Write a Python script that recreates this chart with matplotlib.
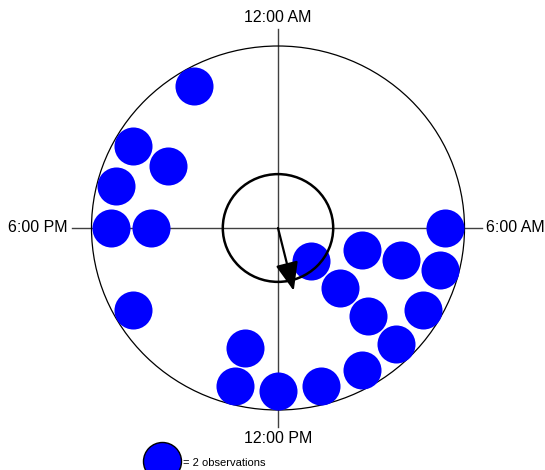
import numpy as np
import matplotlib
matplotlib.use('Agg')
import matplotlib.pyplot as plt
from matplotlib.patches import Circle

plt.rcParams['font.family'] = ['Liberation Sans', 'DejaVu Sans']

# hour of day (24h clock) and number of dots stacked at that hour (1 dot = 2 obs)
hours = [6, 7, 8, 9, 10, 11, 12, 13, 16, 18, 19, 20, 22]
dots = [1, 3, 1, 4, 1, 1, 1, 2, 1, 2, 1, 2, 1]
obs_per_dot = 2
inner_r = 0.296          # reference circle around the mean vector
clock_labels = ['12:00 AM', '6:00 AM', '12:00 PM', '6:00 PM']

fig = plt.figure(figsize=(5.45, 4.70), dpi=100)
ax = fig.add_axes([0, 0, 1, 1])
ax.set_xlim(-278/186.5, (545-278)/186.5)
ax.set_ylim(-(470-228)/182., 228/182.)
ax.axis('off')

dot_r = 0.102
step = 0.215

# axes cross
ax.plot([0, 0], [-1.093, 1.093], color='#404040', lw=1.0, zorder=1)
ax.plot([-1.105, 1.094], [0, 0], color='#404040', lw=1.0, zorder=1)

# outer circle
ax.add_patch(Circle((0, 0), 1.0, fill=False, ec='black', lw=0.9, zorder=2))

# stacked dots
xs, ys = [], []
for h, n in zip(hours, dots):
    th = np.deg2rad(h*15.0)
    for k in range(n):
        r = 1.0 - dot_r - k*step
        xs.append(r*np.sin(th))
        ys.append(r*np.cos(th))
ax.scatter(xs, ys, s=750, c='#0000ff', linewidths=0, zorder=3)

# mean vector
th_all = np.deg2rad(np.repeat(hours, dots)*15.0)
mx = np.mean(np.sin(th_all))
my = np.mean(np.cos(th_all))
ax.add_patch(Circle((0, 0), inner_r, fill=False, ec='black', lw=1.8, zorder=4))
ax.annotate('', xy=(mx, my), xytext=(0, 0),
            arrowprops=dict(arrowstyle='-|>,head_length=1.75,head_width=0.7',
                            mutation_scale=10, lw=1.6, color='black',
                            shrinkA=0, shrinkB=0), zorder=5)

# clock labels
ax.text(0, 1.154, clock_labels[0], ha='center', va='center', fontsize=11.5)
ax.text(1.115, 0, clock_labels[1], ha='left', va='center', fontsize=11.5)
ax.text(0, -1.159, clock_labels[2], ha='center', va='center', fontsize=11.5)
ax.text(-1.126, 0, clock_labels[3], ha='right', va='center', fontsize=11.5)

# key
ax.scatter([-0.622], [-1.280], s=750, c='#0000ff', edgecolors='black', linewidths=1.0, zorder=3, clip_on=False)
ax.text(-0.509, -1.291, '= %d observations' % obs_per_dot, ha='left', va='center', fontsize=8)

fig.savefig('out.png', dpi=100)
